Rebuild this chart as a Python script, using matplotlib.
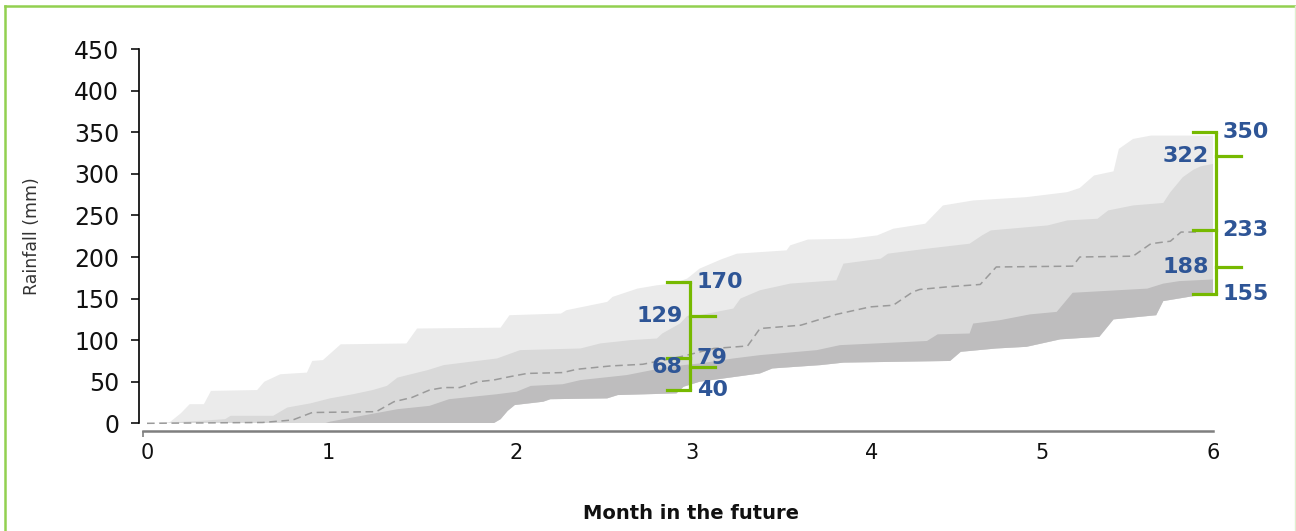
import numpy as np
import matplotlib.pyplot as plt
from matplotlib.lines import Line2D

# month axis: tick positions as they sit in the original
tick_pos = [0, 1.02, 2.08, 3.07, 4.08, 5.04, 6.0]
tick_lab = ["0", "1", "2", "3", "4", "5", "6"]

# upper edge of the light band
light_x = [0.00, 0.12, 0.19, 0.24, 0.32, 0.36, 0.62, 0.66, 0.75, 0.90, 0.93, 0.99, 1.09, 1.46, 1.52,
           1.99, 2.04, 2.33, 2.36, 2.59, 2.62, 2.76, 2.87, 2.96, 3.04, 3.11, 3.23, 3.32, 3.60, 3.62,
           3.72, 3.96, 4.11, 4.20, 4.38, 4.48, 4.65, 4.95, 5.18, 5.25, 5.33, 5.44, 5.47, 5.55, 5.65, 6.00]
light_y = [0, 0, 12, 23, 23, 39, 40, 50, 59, 61, 75, 76, 95, 96, 114,
           115, 130, 132, 136, 146, 152, 162, 166, 168, 174, 186, 197, 204, 208, 214,
           221, 222, 226, 234, 240, 262, 268, 272, 278, 283, 298, 303, 330, 342, 346, 346]

# upper edge of the medium band
med_x = [0.00, 0.13, 0.30, 0.44, 0.47, 0.71, 0.79, 0.92, 1.03, 1.16, 1.27, 1.35, 1.41, 1.58, 1.67,
         1.97, 2.10, 2.44, 2.55, 2.72, 2.87, 2.90, 3.00, 3.04, 3.11, 3.30, 3.34, 3.45, 3.62, 3.88,
         3.92, 4.13, 4.17, 4.39, 4.63, 4.70, 4.75, 5.07, 5.18, 5.35, 5.41, 5.55, 5.72, 5.76, 5.83,
         5.89, 5.93, 6.00]
med_y = [0, 1, 3, 5, 9, 9, 19, 24, 30, 35, 40, 45, 55, 64, 70,
         78, 88, 90, 96, 100, 102, 108, 120, 129, 130, 138, 150, 160, 168, 172,
         192, 198, 204, 210, 216, 226, 232, 238, 244, 246, 256, 262, 265, 278, 296,
         305, 309, 312]

# upper edge of the dark band
dark_x = [0.00, 1.00, 1.03, 1.41, 1.59, 1.70, 1.97, 2.08, 2.16, 2.34, 2.44, 2.57, 2.70, 2.89, 3.02,
          3.11, 3.30, 3.45, 3.77, 3.90, 4.39, 4.45, 4.63, 4.65, 4.80, 4.97, 5.12, 5.21, 5.63, 5.72,
          5.81, 6.00]
dark_y = [0, 0, 2, 17, 21, 29, 35, 38, 45, 47, 52, 55, 58, 66, 70,
          72, 78, 82, 88, 94, 99, 107, 108, 120, 124, 131, 134, 157, 162, 168,
          171, 173]

# lower edge of all bands
bot_x = [0.00, 1.95, 1.99, 2.03, 2.07, 2.23, 2.27, 2.59, 2.65, 2.98, 3.02, 3.11, 3.45, 3.52, 3.79,
         3.92, 4.52, 4.58, 4.78, 4.95, 5.14, 5.36, 5.44, 5.68, 5.72, 5.89, 6.00]
bot_y = [0, 0, 5, 15, 22, 26, 29, 30, 34, 36, 44, 50, 60, 66, 70,
         73, 75, 86, 90, 92, 101, 104, 125, 130, 147, 153, 155]

# median (dashed)
mid_x = [0.00, 0.65, 0.82, 0.93, 1.29, 1.39, 1.49, 1.59, 1.67, 1.76, 1.86, 1.95, 2.04, 2.14, 2.34,
         2.42, 2.61, 2.79, 3.00, 3.04, 3.19, 3.38, 3.45, 3.68, 3.88, 4.07, 4.20, 4.31, 4.35, 4.50,
         4.69, 4.78, 5.21, 5.25, 5.55, 5.65, 5.76, 5.82, 5.93]
mid_y = [0, 1, 4, 13, 14, 26, 31, 40, 43, 43, 50, 52, 56, 60, 61,
         65, 69, 71, 80, 82, 90, 93, 114, 118, 131, 140, 142, 158, 161, 164,
         167, 188, 189, 200, 201, 216, 219, 230, 230]

# bracket values at month 3 and month 6
m3_vals = [170, 129, 79, 68, 40]
m6_vals = [350, 322, 233, 188, 155]

GREEN = "#76b900"
BLUE = "#2e5596"

fig = plt.figure(figsize=(12.96, 5.31), dpi=100)
ax = fig.add_axes([0.1070, 0.2028, 0.8701, 0.7047])
ax.set_xlim(-0.047, 6.3)
ax.set_ylim(0, 450)

def band(xs, ys, color):
    px = np.concatenate([xs, bot_x[::-1]])
    py = np.concatenate([ys, bot_y[::-1]])
    ax.fill(px, py, color=color, lw=0)

band(light_x, light_y, "#ebebeb")
band(med_x, med_y, "#d9d9d9")
band(dark_x, dark_y, "#bebdbe")
ax.plot(mid_x, mid_y, color="#9a9a9a", lw=1.1, ls=(0, (5, 3)), clip_on=False)

def bracket(xb, vals):
    ax.plot([xb, xb], [min(vals), max(vals)], color=GREEN, lw=2.3, clip_on=False,
            solid_capstyle="butt")
    for i, v in enumerate(vals):
        if i % 2 == 0:
            ax.plot([xb - 0.13, xb], [v, v], color=GREEN, lw=2.3, clip_on=False)
            ax.annotate(str(v), (xb, v), xytext=(5, 0), textcoords="offset points",
                        ha="left", va="center", color=BLUE, fontsize=16, fontweight="bold")
        else:
            ax.plot([xb, xb + 0.14], [v, v], color=GREEN, lw=2.3, clip_on=False)
            ax.annotate(str(v), (xb, v), xytext=(-5, 0), textcoords="offset points",
                        ha="right", va="center", color=BLUE, fontsize=16, fontweight="bold")

bracket(tick_pos[3] - 0.015, m3_vals)
bracket(tick_pos[6] + 0.015, m6_vals)

# axes styling
for s in ["top", "right"]:
    ax.spines[s].set_visible(False)
ax.spines["left"].set_linewidth(1.2)
ax.spines["bottom"].set_position(("outward", 5.5))
ax.spines["bottom"].set_bounds(-0.02, 6.0)
ax.spines["bottom"].set_color("#7f7f7f")
ax.spines["bottom"].set_linewidth(1.8)

ax.set_yticks(range(0, 451, 50))
ax.tick_params(axis="y", length=6, width=1.2, pad=8, labelsize=17, colors="#111111")
ax.set_xticks(tick_pos, tick_lab)
ax.tick_params(axis="x", length=0, pad=9, labelsize=15, labelcolor="#111111")
ax.set_xticks([-0.02, 6.0], minor=True)
ax.tick_params(axis="x", which="minor", length=4, width=1.2, color="#7f7f7f")

ax.set_ylabel("Rainfall (mm)", fontsize=12.5, color="#333333")
ax.yaxis.set_label_coords(-0.087, 0.5)
ax.set_xlabel("Month in the future", fontsize=14, fontweight="bold", color="#111111")
ax.xaxis.set_label_coords(0.49, -0.215)

# green frame
fig.add_artist(Line2D([4.5 / 1296, 4.5 / 1296], [0, 1 - 6 / 531], color="#92d050", lw=1.8))
fig.add_artist(Line2D([4.5 / 1296, 1295 / 1296], [1 - 6 / 531, 1 - 6 / 531], color="#92d050", lw=1.8))
fig.add_artist(Line2D([1295 / 1296, 1295 / 1296], [0, 1 - 6 / 531], color="#dfeed0", lw=1.0))

fig.savefig("out.png", dpi=100)
